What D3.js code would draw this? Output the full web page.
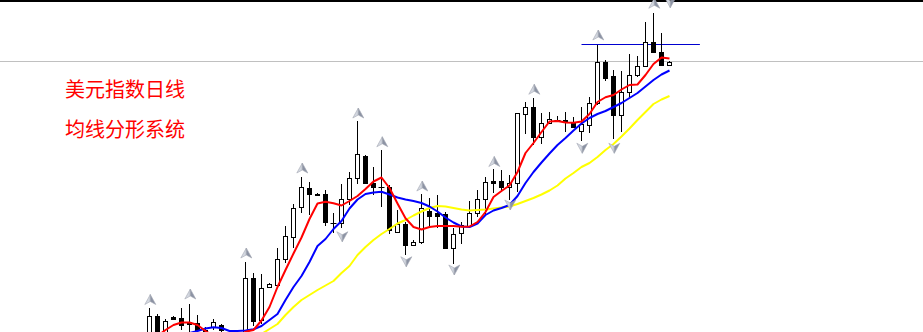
<!DOCTYPE html>
<html>
<head>
<meta charset="utf-8">
<script src="https://cdn.jsdelivr.net/npm/d3@7"></script>
<style>
  html, body { margin: 0; padding: 0; background: #fff; }
  svg { display: block; }
</style>
</head>
<body>
<svg id="chart" width="923" height="332"></svg>
<script>
// daily candles, oldest first
const opens = [89.92,89.68,90.64,89.84,90.61,90.55,90.40,90.37,90.08,90.21,
  90.28,89.96,89.76,89.76,92.15,90.48,91.79,91.88,92.91,93.82,
  94.99,95.75,95.51,95.51,94.38,94.37,95.31,96.15,97.04,95.97,
  95.82,95.81,94.01,94.32,93.48,93.61,94.84,94.75,94.72,93.35,
  93.95,94.25,94.77,95.31,96.05,96.05,95.79,95.95,98.72,99.02,
  97.80,98.35,98.48,98.48,98.35,98.05,98.28,99.15,100.81,100.24,
  98.68,99.61,100.28,100.64,101.61,101.21,100.68];
const highs = [90.02,90.96,90.72,90.51,90.64,90.95,91.12,90.68,90.20,90.51,
  90.32,89.98,89.96,92.81,92.37,92.32,91.96,93.35,94.24,95.14,
  96.22,96.01,95.56,95.68,94.75,95.91,96.41,98.45,97.06,96.61,
  97.30,95.88,94.88,94.40,93.68,95.52,95.36,95.48,94.80,94.16,
  94.41,95.24,95.68,96.19,96.51,96.48,96.28,98.78,99.21,99.35,
  98.75,98.80,98.64,98.81,98.61,98.99,99.41,101.48,100.88,100.48,
  100.45,101.12,101.04,102.41,102.77,101.95,100.84];
const lows = [89.68,89.48,89.60,89.68,90.48,90.08,90.01,89.92,89.76,90.08,
  89.96,89.60,89.60,89.68,90.24,90.32,91.76,91.80,92.76,93.36,
  94.76,94.68,95.46,94.24,93.97,94.15,95.08,95.92,95.94,95.48,
  94.98,93.92,93.96,93.08,93.44,93.52,94.21,94.16,93.32,92.72,
  93.52,94.16,94.61,94.68,95.55,95.61,95.28,95.61,97.92,97.48,
  97.52,98.32,98.40,98.01,98.16,97.65,97.95,99.08,100.05,97.71,
  98.01,99.41,100.19,100.60,101.15,100.66,100.66];
const closes = [89.84,90.64,89.76,90.45,90.53,90.28,90.32,90.08,89.92,90.39,
  90.06,89.76,89.88,92.15,90.44,91.75,91.92,92.91,93.84,94.95,
  95.79,95.51,95.50,94.39,94.37,95.31,96.15,97.12,95.97,95.80,
  95.81,94.06,94.31,93.48,93.61,94.96,94.66,94.64,93.35,93.92,
  94.28,94.77,95.31,96.01,95.95,95.79,95.95,98.75,98.99,97.81,
  98.35,98.51,98.47,98.40,98.21,98.32,99.17,100.81,100.15,98.68,
  99.61,100.28,100.64,101.61,101.21,100.68,100.81];

// moving averages (null = off screen)
const ma_fast = [null,89.68,89.84,90.08,90.28,90.38,90.38,90.28,90.04,89.84,
  89.76,89.68,89.80,90.01,90.08,90.46,91.00,91.80,92.48,93.14,
  93.78,94.52,95.14,95.21,95.15,95.06,95.24,95.44,95.72,96.02,
  96.18,95.76,95.14,94.55,94.20,94.10,94.20,94.24,94.24,94.24,
  94.21,94.22,94.40,94.80,95.40,95.64,95.86,96.40,97.16,97.56,
  98.00,98.42,98.44,98.38,98.37,98.42,98.72,99.20,99.39,99.48,
  99.70,99.88,99.90,100.28,100.72,100.98,100.94];
const ma_mid = [null,null,null,null,null,89.88,89.96,90.04,90.14,90.19,
  90.16,90.04,90.04,90.06,90.11,90.24,90.48,90.72,91.28,91.80,
  92.24,92.80,93.44,93.72,94.12,94.44,94.94,95.30,95.52,95.58,
  95.61,95.50,95.38,95.30,95.24,95.16,95.02,94.82,94.58,94.38,
  94.22,94.20,94.34,94.68,94.86,94.96,95.08,95.44,95.96,96.40,
  96.78,97.14,97.48,97.76,98.06,98.34,98.56,98.72,98.84,99.00,
  99.16,99.36,99.56,99.82,100.08,100.30,100.46];
const ma_slow = [null,null,null,null,null,null,null,null,null,null,
  null,null,null,null,89.68,89.92,90.12,90.32,90.68,91.00,
  91.28,91.48,91.68,91.86,92.04,92.36,92.64,93.08,93.40,93.68,
  93.92,94.12,94.34,94.48,94.66,94.82,94.96,95.04,95.02,94.96,
  94.90,94.86,94.88,94.90,94.94,94.98,95.02,95.12,95.24,95.36,
  95.50,95.66,95.86,96.14,96.36,96.60,96.76,97.00,97.28,97.52,
  97.82,98.14,98.48,98.80,99.12,99.30,99.44];

// fractal marks: [bar index, price]
const fractal_up = [[1,91.30],[6,91.52],[13,93.16],[20,96.56],[27,98.76],[30,97.61],
  [35,95.84],[44,96.82],[49,99.71],[57,101.88],[64,103.15]];
const fractal_down = [[25,93.81],[33,92.81],[39,92.48],[46,95.08],[55,97.35],[59,97.35],[66,103.17]];

// horizontal level drawn by hand
const level = {from: 55, to: 69.8, price: 101.48};

const title_lines = ["美元指数日线", "均线分形系统"];

const width = 923, height = 332;
const svg = d3.select("#chart");

const x_scale = d3.scaleLinear().domain([0, 66]).range([141.5, 669.5]);
const y_scale = d3.scaleLinear().domain([90, 103.28]).range([height, 0]);
const crisp = (v) => Math.floor(v) + 0.5;

// top border
svg.append("line")
  .attr("x1", 0).attr("x2", width)
  .attr("y1", 1).attr("y2", 1)
  .style("stroke", "#000").style("stroke-width", 2);

// current price line
svg.append("line")
  .attr("x1", 0).attr("x2", width)
  .attr("y1", crisp(y_scale(closes[closes.length - 1])))
  .attr("y2", crisp(y_scale(closes[closes.length - 1])))
  .style("stroke", "#c0c0c0").style("stroke-width", 1);

svg.append("line")
  .attr("x1", x_scale(level.from)).attr("x2", x_scale(level.to))
  .attr("y1", crisp(y_scale(level.price))).attr("y2", crisp(y_scale(level.price)))
  .style("stroke", "#0000d0").style("stroke-width", 1);

const candles = svg.append("g").attr("id", "candles");
const bars = d3.range(opens.length);

candles.selectAll(".wick")
  .data(bars)
  .enter()
  .append("line")
  .attr("class", "wick")
  .attr("x1", (i) => crisp(x_scale(i)))
  .attr("x2", (i) => crisp(x_scale(i)))
  .attr("y1", (i) => Math.round(y_scale(highs[i])))
  .attr("y2", (i) => Math.round(y_scale(lows[i])))
  .style("stroke", "#000").style("stroke-width", 1);

bars.forEach((i) => {
  const cx = crisp(x_scale(i));
  const top = Math.round(y_scale(Math.max(opens[i], closes[i])));
  const bottom = Math.round(y_scale(Math.min(opens[i], closes[i])));
  if (bottom - top < 1) {
    candles.append("line")
      .attr("x1", cx - 3).attr("x2", cx + 3)
      .attr("y1", top + 0.5).attr("y2", top + 0.5)
      .style("stroke", "#000").style("stroke-width", 1);
  } else {
    candles.append("rect")
      .attr("x", cx - 2).attr("width", 4)
      .attr("y", top + 0.5).attr("height", bottom - top)
      .style("fill", closes[i] >= opens[i] ? "#fff" : "#000")
      .style("stroke", "#000").style("stroke-width", 1);
  }
});

const line = d3.line()
  .defined((d) => d !== null)
  .x((d, i) => x_scale(i))
  .y((d) => y_scale(d));

const ma_layer = svg.append("g").attr("id", "ma-layer");
[[ma_slow, "#ffff00"], [ma_mid, "#0000ff"], [ma_fast, "#ff0000"]].forEach(([series, color]) => {
  ma_layer.append("path")
    .attr("d", line(series))
    .style("fill", "none")
    .style("stroke", color)
    .style("stroke-width", 2)
    .style("stroke-linejoin", "round");
});

// fractal arrows
const arrow_layer = svg.append("g").attr("id", "arrows");
const draw_arrow = (d, dir) => {
  const g = arrow_layer.append("g")
    .attr("transform", `translate(${x_scale(d[0]) + 0.8}, ${y_scale(d[1])}) scale(1, ${dir})`);
  g.append("path").attr("d", "M0,-5 L0,2 L-5.5,5 Z")
    .style("fill", "#d3d7e0").style("stroke", "#a4a8b4").style("stroke-width", 0.6);
  g.append("path").attr("d", "M0,-5 L5.5,5 L0,2 Z")
    .style("fill", "#8c93a4").style("stroke", "#a4a8b4").style("stroke-width", 0.6);
};
fractal_up.forEach((d) => draw_arrow(d, 1));
fractal_down.forEach((d) => draw_arrow(d, -1));

svg.selectAll(".title")
  .data(title_lines)
  .enter()
  .append("text")
  .attr("class", "title")
  .attr("x", 65)
  .attr("y", (d, i) => 97 + i * 40)
  .style("font-family", "'Noto Sans CJK SC', sans-serif")
  .style("font-size", "20px")
  .style("fill", "#ff0000")
  .text((d) => d);
</script>
</body>
</html>
